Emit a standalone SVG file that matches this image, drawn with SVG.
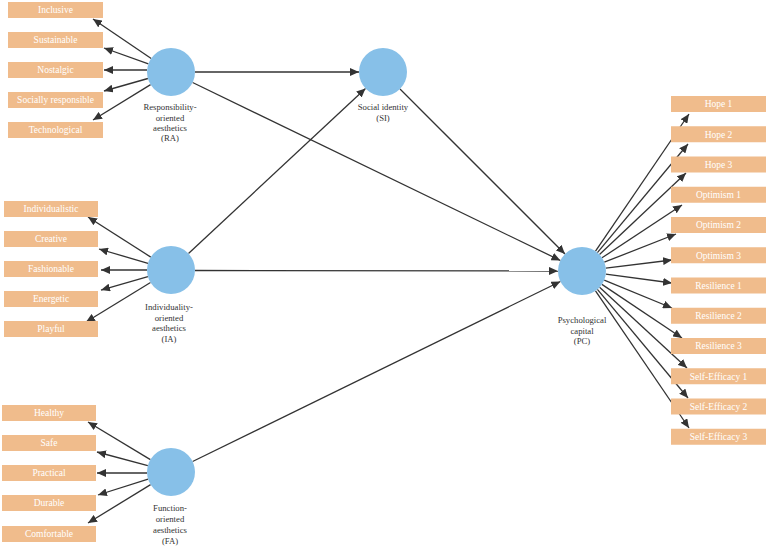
<svg xmlns="http://www.w3.org/2000/svg" width="767" height="547" viewBox="0 0 767 547">
<style>
.box{fill:#F0BC8C;}
.bt{font-family:"Liberation Serif","Times New Roman",serif;font-size:9.5px;fill:#FFFFFF;text-anchor:middle;}
.lv{fill:#87C0E8;}
.lt{font-family:"Liberation Serif","Times New Roman",serif;font-size:8.7px;fill:#333333;text-anchor:middle;}
.c line{stroke:#333333;stroke-width:1.3;marker-end:url(#ah);}
</style>
<defs>
<marker id="ah" markerUnits="userSpaceOnUse" markerWidth="10" markerHeight="8" refX="9" refY="4" orient="auto">
<path d="M0,0 L9,4 L0,8 z" fill="#333333"/>
</marker>
</defs>
<rect width="767" height="547" fill="#FFFFFF"/>
<g id="connectors" class="c">
<line x1="151.2" y1="58.5" x2="93" y2="19"/>
<line x1="148.4" y1="63.9" x2="104" y2="48"/>
<line x1="147" y1="70" x2="104" y2="70"/>
<line x1="147.9" y1="78.5" x2="104" y2="91"/>
<line x1="150.6" y1="84.6" x2="93" y2="120"/>
<line x1="150.8" y1="257.1" x2="88" y2="217"/>
<line x1="148" y1="263.3" x2="99" y2="249"/>
<line x1="147" y1="270" x2="101" y2="270"/>
<line x1="147.9" y1="276.6" x2="101" y2="290"/>
<line x1="150.5" y1="282.5" x2="86" y2="322"/>
<line x1="150.4" y1="459.6" x2="88" y2="422"/>
<line x1="147.8" y1="465.7" x2="97" y2="452"/>
<line x1="147" y1="473" x2="97" y2="473"/>
<line x1="148.1" y1="479.2" x2="98" y2="495"/>
<line x1="150.6" y1="484.6" x2="88" y2="523"/>
<line x1="195" y1="72" x2="359" y2="72"/>
<line x1="188.5" y1="253.6" x2="365.5" y2="88.4"/>
<line x1="400" y1="89" x2="565" y2="254"/>
<line x1="192.6" y1="82.5" x2="560.4" y2="260.5"/>
<line x1="195" y1="270.5" x2="558" y2="271"/>
<line x1="192.6" y1="461.5" x2="560.4" y2="281.5"/>
<line x1="595.5" y1="251.2" x2="689" y2="114"/>
<line x1="597.4" y1="252.6" x2="688" y2="144"/>
<line x1="599.5" y1="254.5" x2="686" y2="173"/>
<line x1="602" y1="257.8" x2="682" y2="205"/>
<line x1="604.3" y1="262.2" x2="676" y2="234"/>
<line x1="605.8" y1="268.1" x2="672" y2="260"/>
<line x1="605.8" y1="274.2" x2="672" y2="283"/>
<line x1="604.2" y1="280.1" x2="672" y2="308"/>
<line x1="601.9" y1="284.4" x2="682" y2="338"/>
<line x1="599.6" y1="287.3" x2="687" y2="368"/>
<line x1="597.4" y1="289.4" x2="688" y2="398"/>
<line x1="595.5" y1="290.8" x2="689" y2="428"/>
</g>
<g id="RA">
<circle class="lv" cx="171" cy="72" r="24"/>
<text class="lt" x="170" y="110">Responsibility-</text>
<text class="lt" x="170" y="121">oriented</text>
<text class="lt" x="170" y="131">aesthetics</text>
<text class="lt" x="170" y="141">(RA)</text>
</g>
<g id="RA-indicators">
<rect class="box" x="8" y="2" width="95" height="16"/><text class="bt" x="55.5" y="13.3">Inclusive</text>
<rect class="box" x="8" y="32" width="95" height="16"/><text class="bt" x="55.5" y="43.3">Sustainable</text>
<rect class="box" x="8" y="62" width="95" height="16"/><text class="bt" x="55.5" y="73.3">Nostalgic</text>
<rect class="box" x="8" y="92" width="95" height="16"/><text class="bt" x="55.5" y="103.3">Socially responsible</text>
<rect class="box" x="8" y="122" width="95" height="16"/><text class="bt" x="55.5" y="133.3">Technological</text>
</g>
<g id="IA">
<circle class="lv" cx="171" cy="270" r="24"/>
<text class="lt" x="169" y="310">Individuality-</text>
<text class="lt" x="169" y="321">oriented</text>
<text class="lt" x="169" y="331">aesthetics</text>
<text class="lt" x="169" y="342">(IA)</text>
</g>
<g id="IA-indicators">
<rect class="box" x="4" y="201" width="94" height="16"/><text class="bt" x="51" y="212.3">Individualistic</text>
<rect class="box" x="4" y="231" width="94" height="16"/><text class="bt" x="51" y="242.3">Creative</text>
<rect class="box" x="4" y="261" width="94" height="16"/><text class="bt" x="51" y="272.3">Fashionable</text>
<rect class="box" x="4" y="291" width="94" height="16"/><text class="bt" x="51" y="302.3">Energetic</text>
<rect class="box" x="4" y="321" width="94" height="16"/><text class="bt" x="51" y="332.3">Playful</text>
</g>
<g id="FA">
<circle class="lv" cx="171" cy="472" r="24"/>
<text class="lt" x="170" y="511">Function-</text>
<text class="lt" x="170" y="522">oriented</text>
<text class="lt" x="170" y="533">aesthetics</text>
<text class="lt" x="170" y="544">(FA)</text>
</g>
<g id="FA-indicators">
<rect class="box" x="2" y="405" width="94" height="16"/><text class="bt" x="49" y="416.3">Healthy</text>
<rect class="box" x="2" y="435" width="94" height="16"/><text class="bt" x="49" y="446.3">Safe</text>
<rect class="box" x="2" y="465" width="94" height="16"/><text class="bt" x="49" y="476.3">Practical</text>
<rect class="box" x="2" y="495" width="94" height="16"/><text class="bt" x="49" y="506.3">Durable</text>
<rect class="box" x="2" y="526" width="94" height="16"/><text class="bt" x="49" y="537.3">Comfortable</text>
</g>
<g id="SI">
<circle class="lv" cx="383" cy="72" r="24"/>
<text class="lt" x="383" y="110">Social identity</text>
<text class="lt" x="383" y="121">(SI)</text>
</g>
<g id="PC">
<circle class="lv" cx="582" cy="271" r="24"/>
<text class="lt" x="582" y="323">Psychological</text>
<text class="lt" x="582" y="334">capital</text>
<text class="lt" x="582" y="344">(PC)</text>
</g>
<g id="PC-indicators">
<rect class="box" x="671" y="96" width="95" height="16"/><text class="bt" x="718.5" y="107.3">Hope 1</text>
<rect class="box" x="671" y="126.25" width="95" height="16"/><text class="bt" x="718.5" y="137.55">Hope 2</text>
<rect class="box" x="671" y="156.5" width="95" height="16"/><text class="bt" x="718.5" y="167.8">Hope 3</text>
<rect class="box" x="671" y="186.75" width="95" height="16"/><text class="bt" x="718.5" y="198.05">Optimism 1</text>
<rect class="box" x="671" y="217" width="95" height="16"/><text class="bt" x="718.5" y="228.3">Optimism 2</text>
<rect class="box" x="671" y="247.25" width="95" height="16"/><text class="bt" x="718.5" y="258.55">Optimism 3</text>
<rect class="box" x="671" y="277.5" width="95" height="16"/><text class="bt" x="718.5" y="288.8">Resilience 1</text>
<rect class="box" x="671" y="307.75" width="95" height="16"/><text class="bt" x="718.5" y="319.05">Resilience 2</text>
<rect class="box" x="671" y="338" width="95" height="16"/><text class="bt" x="718.5" y="349.3">Resilience 3</text>
<rect class="box" x="671" y="368.25" width="95" height="16"/><text class="bt" x="718.5" y="379.55">Self-Efficacy 1</text>
<rect class="box" x="671" y="398.5" width="95" height="16"/><text class="bt" x="718.5" y="409.8">Self-Efficacy 2</text>
<rect class="box" x="671" y="428.75" width="95" height="16"/><text class="bt" x="718.5" y="440.05">Self-Efficacy 3</text>
</g>
</svg>
